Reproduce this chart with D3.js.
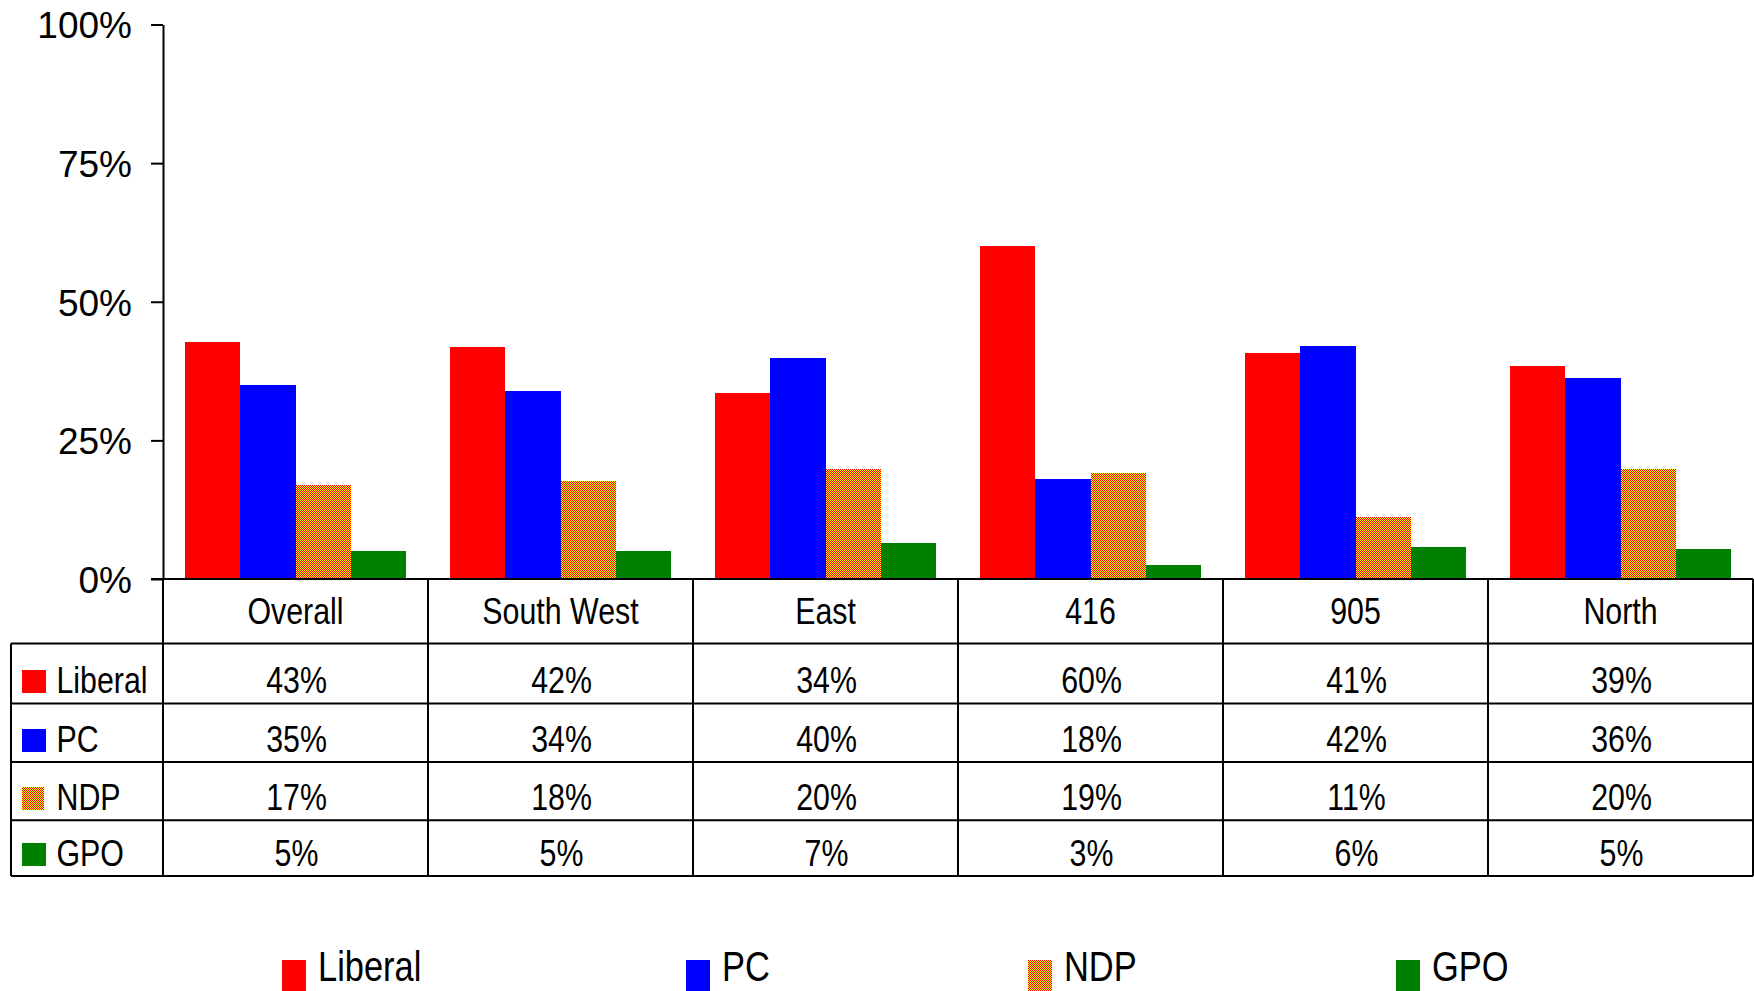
<!DOCTYPE html>
<html>
<head>
<meta charset="utf-8">
<script src="https://cdn.jsdelivr.net/npm/d3@7"></script>
<style>
  body { margin: 0; background: #fff; }
  svg { display: block; font-family: "Liberation Sans", Arial, sans-serif; }
</style>
</head>
<body>
<div id="chart"></div>
<script>
// data
var categories = ["Overall", "South West", "East", "416", "905", "North"];
var parties = ["Liberal", "PC", "NDP", "GPO"];
var liberal = [42.8, 41.9, 33.6, 60.1, 40.8, 38.5];
var pc      = [34.9, 33.9, 39.8, 18.0, 42.0, 36.3];
var ndp     = [16.9, 17.7, 19.9, 19.1, 11.2, 19.9];
var gpo     = [5.0, 5.0, 6.5, 2.5, 5.8, 5.4];
var yTicks  = [0, 25, 50, 75, 100];

var seriesValues = [liberal, pc, ndp, gpo];
var colors = ["#ff0000", "#0000ff", "url(#ndpPattern)", "#008000"];

var width = 1754, height = 991;
var plotLeft = 163, plotRight = 1753, plotTop = 24.5, plotBottom = 579;
var tableLeft = 11;
var headerBottom = 643.5;
var rowLines = [643.5, 703.5, 762, 820.3, 876];
var squeeze = 0.82;

var svg = d3.select("#chart")
  .append("svg")
    .attr("width", width)
    .attr("height", height);

// orange checker used for NDP
var pat = svg.append("defs").append("pattern")
    .attr("id", "ndpPattern")
    .attr("patternUnits", "userSpaceOnUse")
    .attr("width", 2).attr("height", 2);
pat.append("rect").attr("width", 2).attr("height", 2).attr("fill", "#ffff00");
pat.append("rect").attr("x", 0).attr("y", 0).attr("width", 1).attr("height", 1).attr("fill", "#ff0000");
pat.append("rect").attr("x", 1).attr("y", 1).attr("width", 1).attr("height", 1).attr("fill", "#ff0000");

// scales
var x0 = d3.scaleBand()
  .domain(categories)
  .range([plotLeft, plotRight]);

var x1 = d3.scaleBand()
  .domain(parties)
  .range([0, x0.bandwidth()])
  .paddingOuter(0.39);

var y = d3.scaleLinear()
  .domain([0, 100])
  .range([plotBottom, plotTop]);

// bars
var groups = svg.append("g")
  .selectAll("g")
  .data(categories)
  .enter()
  .append("g")
    .attr("transform", function(d) { return "translate(" + x0(d) + ",0)"; });

groups.selectAll("rect")
  .data(function(d, i) {
    return parties.map(function(p, j) { return {party: p, value: seriesValues[j][i], color: colors[j]}; });
  })
  .enter()
  .append("rect")
    .attr("x", function(d) { return x1(d.party); })
    .attr("y", function(d) { return y(d.value); })
    .attr("width", x1.bandwidth())
    .attr("height", function(d) { return y(0) - y(d.value); })
    .attr("fill", function(d) { return d.color; })
    .attr("shape-rendering", "crispEdges");

// Y axis
var yAxis = svg.append("g")
  .attr("transform", "translate(" + plotLeft + ",0)")
  .call(d3.axisLeft(y).tickValues(yTicks).tickFormat(function(d) { return d + "%"; }).tickSize(12).tickSizeOuter(0));
yAxis.select(".domain").attr("stroke", "#000").attr("stroke-width", 2);
yAxis.selectAll(".tick line").attr("stroke", "#000").attr("stroke-width", 2);
yAxis.selectAll(".tick text")
  .attr("x", -31)
  .attr("dy", "0.36em")
  .attr("fill", "#000")
  .style("font-size", "37px")
  .style("font-family", "'Liberation Sans', Arial, sans-serif");

// table lines
var lines = svg.append("g").attr("stroke", "#000").attr("stroke-width", 2).attr("fill", "none");
lines.append("line").attr("x1", plotLeft - 12).attr("x2", plotRight).attr("y1", plotBottom).attr("y2", plotBottom);
rowLines.forEach(function(ly) {
  lines.append("line").attr("x1", tableLeft).attr("x2", plotRight).attr("y1", ly).attr("y2", ly);
});
lines.append("line").attr("x1", tableLeft).attr("x2", tableLeft).attr("y1", headerBottom).attr("y2", rowLines[rowLines.length - 1]);
categories.forEach(function(c) {
  lines.append("line").attr("x1", x0(c)).attr("x2", x0(c)).attr("y1", plotBottom).attr("y2", rowLines[rowLines.length - 1]);
});
lines.append("line").attr("x1", plotRight).attr("x2", plotRight).attr("y1", plotBottom).attr("y2", rowLines[rowLines.length - 1]);

// narrow text helper
function narrowText(parent, tx, ty, label, anchor, size, sx) {
  parent.append("g")
    .attr("transform", "translate(" + tx + "," + ty + ") scale(" + sx + ",1)")
    .append("text")
      .attr("text-anchor", anchor)
      .style("font-size", size + "px")
      .attr("fill", "#000")
      .text(label);
}

var table = svg.append("g");

// header row: categories
categories.forEach(function(c) {
  narrowText(table, x0(c) + x0.bandwidth() / 2, 623.5, c, "middle", 37, squeeze);
});

// data rows
parties.forEach(function(p, j) {
  var base = rowLines[j + 1] - 10.5;
  var sw = p === "NDP" ? 22 : 24;
  table.append("rect")
    .attr("x", 22).attr("y", base - 23)
    .attr("width", sw).attr("height", 23)
    .attr("fill", colors[j])
    .attr("shape-rendering", "crispEdges");
  narrowText(table, 56.5, base, p, "start", 37, squeeze);
  categories.forEach(function(c, i) {
    narrowText(table, x0(c) + x0.bandwidth() / 2 + 1, base, Math.round(seriesValues[j][i]) + "%", "middle", 37, squeeze);
  });
});

// bottom legend
var legendX = [282, 686, 1028, 1396];
var legend = svg.append("g");
parties.forEach(function(p, j) {
  legend.append("rect")
    .attr("x", legendX[j]).attr("y", 960)
    .attr("width", 24).attr("height", 31)
    .attr("fill", colors[j])
    .attr("shape-rendering", "crispEdges");
  narrowText(legend, legendX[j] + 36, 981, p, "start", 42, 0.82);
});
</script>
</body>
</html>
